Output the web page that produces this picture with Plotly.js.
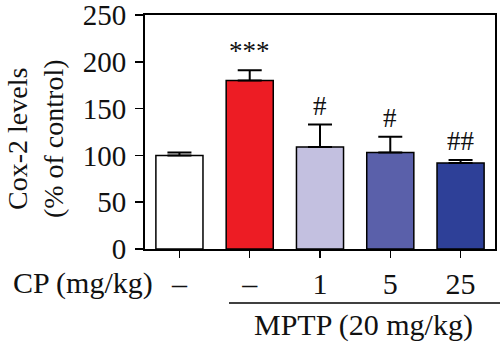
<!DOCTYPE html>
<html>
<head>
<meta charset="utf-8">
<script src="https://cdn.plot.ly/plotly-3.0.1.min.js"></script>
<style>html,body{margin:0;padding:0;background:#fff;}#chart{width:500px;height:347px;}</style>
</head>
<body>
<div id="chart"></div>
<script>
const groups = ["Control", "MPTP", "MPTP+CP1", "MPTP+CP5", "MPTP+CP25"];
const cpLabels = ["–", "–", "1", "5", "25"];
const values = [100, 180, 109, 103, 92];
const errors = [3, 11, 24, 17, 3];
const signif = ["", "***", "#", "#", "##"];
const barColors = ["#FFFFFF", "#ED1C24", "#C3C0E0", "#5A60AA", "#2E4098"];
const yTicks = [0, 50, 100, 150, 200, 250];

const xIdx = groups.map((_, i) => i);
const font = "Liberation Serif";
const fs = 30;

const trace = {
  type: 'bar',
  x: xIdx,
  y: values,
  width: 0.67,
  marker: {color: barColors, line: {color: '#000', width: 1.5}},
  error_y: {type: 'data', array: errors, arrayminus: errors.map(() => 0), symmetric: false,
            color: '#000', thickness: 2, width: 12},
  hoverinfo: 'none'
};

const annotations = signif.map((s, i) => ({
  x: i, y: values[i] + errors[i], xref: 'x', yref: 'y', text: s, showarrow: false,
  yanchor: 'bottom', yshift: 2, font: {family: font, size: 27, color: '#111'}
})).filter(a => a.text !== "");

annotations.push({
  xref: 'paper', yref: 'paper', x: -0.382, y: -0.145, xanchor: 'left', yanchor: 'middle',
  text: 'CP (mg/kg)', showarrow: false, font: {family: font, size: fs, color: '#111'}
});
annotations.push({
  xref: 'paper', yref: 'paper', x: 0.625, y: -0.325, xanchor: 'center', yanchor: 'middle',
  text: 'MPTP (20 mg/kg)', showarrow: false, font: {family: font, size: fs, color: '#111'}
});
annotations.push({
  xref: 'paper', yref: 'paper', x: -0.314, y: 0.47, xanchor: 'center', yanchor: 'middle',
  textangle: -90, text: 'Cox-2 levels<br>(% of control)', showarrow: false,
  font: {family: font, size: 28, color: '#111'}
});

const layout = {
  width: 500, height: 347,
  margin: {l: 145, r: 5, t: 15, b: 98},
  paper_bgcolor: '#fff', plot_bgcolor: '#fff',
  showlegend: false,
  font: {family: font, color: '#111'},
  xaxis: {
    range: [-0.49, 4.49], tickmode: 'array', tickvals: xIdx, ticktext: cpLabels,
    showline: true, linecolor: '#000', linewidth: 2, mirror: true,
    ticks: 'outside', ticklen: 7, tickwidth: 1.5, tickcolor: '#000',
    showgrid: false, zeroline: false, fixedrange: true,
    tickfont: {family: font, size: fs, color: '#111'}
  },
  yaxis: {
    range: [0, 250], tickmode: 'array', tickvals: yTicks,
    showline: true, linecolor: '#000', linewidth: 2, mirror: true,
    ticks: 'outside', ticklen: 8, tickwidth: 1.5, tickcolor: '#000',
    showgrid: false, zeroline: false, fixedrange: true, automargin: false,
    ticklabeloverflow: 'allow', ticklabelstandoff: 3,
    tickfont: {family: font, size: 29, color: '#111'}
  },
  shapes: [{
    type: 'line', xref: 'paper', yref: 'paper', x0: 0.24, x1: 1.02, y0: -0.231, y1: -0.231,
    line: {color: '#000', width: 1.5}
  }],
  annotations: annotations
};

Plotly.newPlot('chart', [trace], layout, {staticPlot: true, displayModeBar: false});
</script>
</body>
</html>
